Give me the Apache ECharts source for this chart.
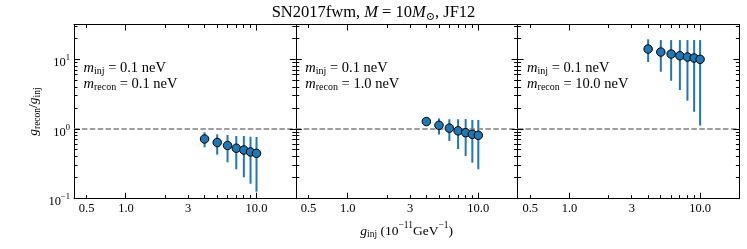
<!DOCTYPE html>
<html><head><meta charset="utf-8">
<script src="https://cdn.jsdelivr.net/npm/echarts@6/dist/echarts.min.js"></script>
<style>html,body{margin:0;padding:0;background:#fff}#c{width:747px;height:249px}</style>
</head><body><div id="c"></div>
<script>
// ---- data ----
const gInj = [4, 5, 6, 7, 8, 9, 10];
const ratioA = [0.72, 0.64, 0.58, 0.53, 0.50, 0.468, 0.448];
const lowA   = [0.546, 0.428, 0.333, 0.264, 0.203, 0.164, 0.126];
const highA  = [0.897, 0.839, 0.820, 0.794, 0.794, 0.775, 0.768];
const ratioB = [1.28, 1.13, 1.03, 0.942, 0.885, 0.839, 0.812];
const lowB   = [1.23, 0.834, 0.673, 0.516, 0.41, 0.329, 0.264];
const highB  = [1.33, 1.42, 1.38, 1.38, 1.39, 1.35, 1.35];
const ratioC = [14.06, 12.73, 11.91, 11.26, 10.79, 10.44, 10.0];
const lowC   = [9.15, 6.64, 4.93, 3.63, 2.55, 1.77, 1.12];
const highC  = [19.4, 18.9, 18.9, 18.9, 18.9, 18.9, 18.9];
const mInj = ['0.1', '0.1', '0.1'];
const mRecon = ['0.1', '1.0', '10.0'];
const xTickValues = [0.5, 1, 3, 10];
const xTickText = ['0.5', '1.0', '3', '10.0'];
const xMajorTicks = [1, 10];
const xMinorTicks = [0.5, 2, 3, 4, 5, 6, 7, 8, 9];
const yMajorTicks = [0.1, 1, 10];
const yMinorTicks = [0.2, 0.3, 0.4, 0.5, 0.6, 0.7, 0.8, 0.9, 2, 3, 4, 5, 6, 7, 8, 9, 20, 30];

const panels = [
  {ratio: ratioA, low: lowA, high: highA},
  {ratio: ratioB, low: lowB, high: highB},
  {ratio: ratioC, low: lowC, high: highC}
];

const FONT = "'Liberation Serif', 'DejaVu Serif', serif";
const BLUE = '#1f77b4';
const GRID_L = 74, GRID_W = 221.8, GRID_T = 24.5, GRID_H = 174.2;

function rich(fs, sfs) {
  const u = 0.2 * fs + 0.3 * sfs;   // superscript centre shift up
  const d = 0.48 * fs - 0.3 * sfs;  // subscript centre shift down
  const T = Math.ceil(2 * Math.max(fs / 2, u + sfs / 2, d + sfs / 2));
  const tok = (size, center, extra) => Object.assign({
    fontFamily: FONT, fontSize: size, lineHeight: size, color: '#000',
    verticalAlign: 'top',
    padding: [center - size / 2, 0, T - center - size / 2, 0]
  }, extra || {});
  return {
    n: tok(fs, T / 2), i: tok(fs, T / 2, {fontStyle: 'italic'}),
    sb: tok(sfs, T / 2 + d), sp: tok(sfs, T / 2 - u)
  };
}

function near(arr, v) {
  for (let k = 0; k < arr.length; k++) if (Math.abs(arr[k] - v) < 1e-6 * Math.max(1, arr[k])) return k;
  return -1;
}

// tick table built from the tick arrays: [x, y, kind(0=x,1=y), major]
const tickData = []
  .concat(xMajorTicks.map(v => [v, 1, 0, 1]))
  .concat(xMinorTicks.map(v => [v, 1, 0, 0]))
  .concat(yMajorTicks.map(v => [1, v, 1, 1]))
  .concat(yMinorTicks.map(v => [1, v, 1, 0]));

const xAxes = [], yAxes = [], grids = [], series = [], graphics = [];
const line = {show: true, onZero: false, lineStyle: {color: '#000', width: 1}};
const noTick = {show: false};

function tickLineEl(x1, y1, x2, y2) {
  return {type: 'line', shape: {x1: x1, y1: y1, x2: x2, y2: y2}, style: {stroke: '#000', lineWidth: 1}};
}

panels.forEach((p, i) => {
  const left = GRID_L + i * GRID_W;
  grids.push({left: left, top: GRID_T, width: GRID_W, height: GRID_H, outerBoundsMode: 'none', containLabel: false});
  const xb = {type: 'log', logBase: 10, min: 0.4, max: 20, gridIndex: i, splitLine: {show: false},
    minorTick: {show: false}, minorSplitLine: {show: false}, silent: true, axisTick: noTick};
  const yb = {type: 'log', logBase: 10, min: 0.1, max: 31.62, gridIndex: i, splitLine: {show: false},
    minorTick: {show: false}, minorSplitLine: {show: false}, silent: true, axisTick: noTick};
  const xMain = Object.assign({}, xb, {
    position: 'bottom', axisLine: line,
    axisLabel: {show: true, customValues: xTickValues, margin: 4, fontFamily: FONT, fontSize: 12.5, color: '#000',
      formatter: v => { const k = near(xTickValues, v); return k >= 0 ? xTickText[k] : ''; }}
  });
  if (i === 1) {
    Object.assign(xMain, {
      name: '{i|g}{sb|inj}{n| (10}{sp|−11}{n|GeV}{sp|−1}{n|)}',
      nameLocation: 'middle', nameGap: 16,
      nameTextStyle: {rich: rich(13.5, 9.5)}
    });
  }
  xAxes.push(xMain);
  xAxes.push(Object.assign({}, xb, {position: 'top', axisLine: line, axisLabel: {show: false}}));

  const yMain = Object.assign({}, yb, {
    position: 'left', axisLine: line,
    axisLabel: {show: i === 0, customValues: yMajorTicks, margin: 4, rich: rich(12.5, 8.5),
      formatter: v => '{n|10}{sp|' + String(Math.round(Math.log10(v))).replace('-', '−') + '}'}
  });
  if (i === 0) {
    Object.assign(yMain, {
      name: '{i|g}{sb|recon}{n|/}{i|g}{sb|inj}', nameLocation: 'middle', nameGap: 34, nameRotate: 90,
      nameTextStyle: {rich: rich(13.5, 9.5)}
    });
  }
  yAxes.push(yMain);
  yAxes.push(Object.assign({}, yb, {position: 'right', axisLine: line, axisLabel: {show: false}}));

  // inward ticks on all four sides, placed through the axes' scales
  series.push({
    type: 'custom', xAxisIndex: 2 * i, yAxisIndex: 2 * i, z: 20, silent: true, clip: false,
    data: tickData, encode: {x: 0, y: 1},
    renderItem: (params, api) => {
      const cs = params.coordSys;
      const len = api.value(3) ? 6 : 3.5;
      if (api.value(2) === 0) {
        const x = Math.floor(api.coord([api.value(0), 1])[0]) + 0.5;
        const yb = cs.y + cs.height, yt = cs.y;
        return {type: 'group', children: [tickLineEl(x, yb, x, yb - len), tickLineEl(x, yt, x, yt + len)]};
      }
      const y = Math.floor(api.coord([1, api.value(1)])[1]) + 0.5;
      const xl = cs.x, xr = cs.x + cs.width;
      return {type: 'group', children: [tickLineEl(xl, y, xl + len, y), tickLineEl(xr, y, xr - len, y)]};
    }
  });

  series.push({
    type: 'custom', xAxisIndex: 2 * i, yAxisIndex: 2 * i, z: 3, silent: true,
    data: gInj.map((x, k) => [x, p.low[k], p.high[k]]),
    encode: {x: 0, y: [1, 2]},
    renderItem: (params, api) => {
      const a = api.coord([api.value(0), api.value(1)]);
      const b = api.coord([api.value(0), api.value(2)]);
      return {type: 'line', shape: {x1: a[0], y1: a[1], x2: b[0], y2: b[1]},
        style: {stroke: BLUE, lineWidth: 2}};
    }
  });
  series.push({
    type: 'scatter', xAxisIndex: 2 * i, yAxisIndex: 2 * i, z: 10, silent: true,
    data: gInj.map((x, k) => [x, p.ratio[k]]),
    symbol: 'circle', symbolSize: 8.5,
    itemStyle: {color: BLUE, borderColor: '#000', borderWidth: 1, opacity: 1},
    markLine: {silent: true, symbol: 'none', label: {show: false}, animation: false,
      lineStyle: {type: [5.5, 2.4], color: '#808080', width: 1.5},
      emphasis: {disabled: true},
      data: [{yAxis: 1}]}
  });

  const r = rich(14.5, 10);
  graphics.push({type: 'text', x: left + 9.5, y: 64, silent: true,
    style: {text: '{i|m}{sb|inj}{n| = ' + mInj[i] + ' neV}', rich: r, verticalAlign: 'middle', align: 'left'}});
  graphics.push({type: 'text', x: left + 9.5, y: 80, silent: true,
    style: {text: '{i|m}{sb|recon}{n| = ' + mRecon[i] + ' neV}', rich: r, verticalAlign: 'middle', align: 'left'}});
});

const chart = echarts.init(document.getElementById('c'), null, {renderer: 'canvas'});
chart.setOption({
  animation: false,
  backgroundColor: '#fff',
  title: {text: '{n|SN2017fwm, }{i|M}{n| = 10}{i|M}{sb|⊙}{n|, JF12}', left: 'center', top: 0, padding: 0,
    textStyle: {fontWeight: 'normal', rich: rich(16.5, 11)}},
  grid: grids, xAxis: xAxes, yAxis: yAxes, series: series, graphic: graphics
});
</script></body></html>
